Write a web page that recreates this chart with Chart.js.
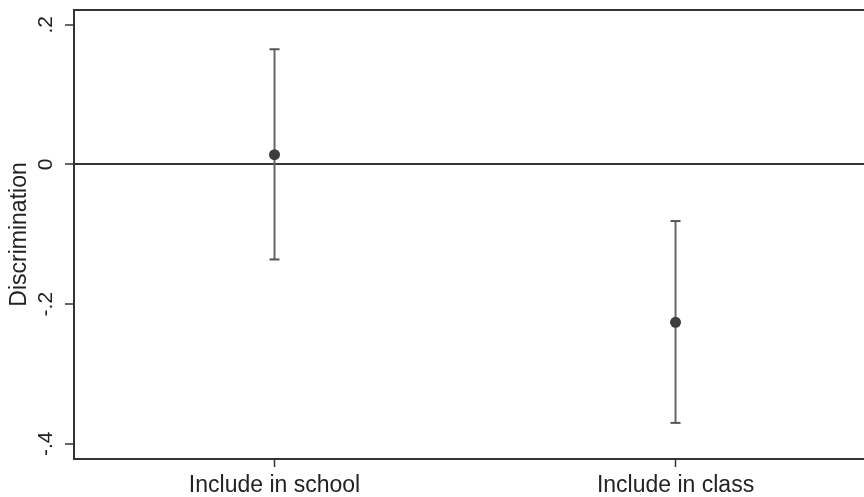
<!DOCTYPE html>
<html>
<head>
<meta charset="utf-8">
<title>Discrimination</title>
<script src="https://cdn.jsdelivr.net/npm/chart.js@4/dist/chart.umd.min.js"></script>
<style>
  html, body { margin: 0; padding: 0; background: #ffffff; overflow: hidden; }
  #wrap { position: relative; width: 864px; height: 497px; }
</style>
</head>
<body>
<div id="wrap"><canvas id="chart"></canvas></div>
<script>
// Point estimates with their confidence bounds, one entry per category
const categories = ['Include in school', 'Include in class'];
const estimates  = [0.014, -0.226];
const ciLower    = [-0.136, -0.370];
const ciUpper    = [0.165, -0.081];
const yTicks     = [-0.4, -0.2, 0, 0.2];
const yTickLabels = ['-.4', '-.2', '0', '.2'];

const FONT = '"Liberation Sans", Arial, Helvetica, sans-serif';
const INK = '#222222';
const FRAME = '#333333';

// One whisker dataset per category: a vertical segment with flat caps at both ends
const whiskers = categories.map((c, i) => ({
  type: 'line',
  label: c + ' CI',
  data: [{ x: i, y: ciLower[i] }, { x: i, y: ciUpper[i] }],
  showLine: true,
  borderColor: '#666666',
  borderWidth: 2,
  pointStyle: 'line',
  pointRadius: 5,
  pointBorderWidth: 2,
  pointBorderColor: '#555555',
  fill: false,
  order: 1
}));

const points = {
  type: 'scatter',
  label: 'Estimate',
  data: estimates.map((v, i) => ({ x: i, y: v })),
  pointRadius: 5.5,
  pointBackgroundColor: '#3d3d3d',
  pointBorderWidth: 0,
  order: 0
};

// Frame top edge and rotated y tick labels, placed by the y scale
const framePlugin = {
  id: 'frame',
  afterDraw(chart) {
    const { ctx, chartArea } = chart;
    const y = chart.scales.y;
    ctx.save();
    ctx.strokeStyle = FRAME;
    ctx.lineWidth = 2;
    ctx.beginPath();
    ctx.moveTo(chartArea.left - 1, chartArea.top);
    ctx.lineTo(chartArea.right, chartArea.top);
    ctx.stroke();

    ctx.fillStyle = INK;
    ctx.font = '21px ' + FONT;
    ctx.textAlign = 'center';
    ctx.textBaseline = 'middle';
    yTicks.forEach((v, i) => {
      const py = y.getPixelForValue(v);
      ctx.save();
      ctx.translate(46, py);
      ctx.rotate(-Math.PI / 2);
      ctx.fillText(yTickLabels[i], 0, 0);
      ctx.restore();
    });
    ctx.restore();
  }
};

new Chart(document.getElementById('chart'), {
  data: { datasets: [points, ...whiskers] },
  options: {
    responsive: true,
    maintainAspectRatio: false,
    animation: false,
    layout: { autoPadding: false, padding: { top: 10, right: 0, left: 0, bottom: 0 } },
    plugins: { legend: { display: false }, tooltip: { enabled: false } },
    scales: {
      x: {
        type: 'linear',
        min: -0.5,
        max: 1.47,
        afterFit(scale) {
          scale.height = 38;
          scale.paddingLeft = 0;
          scale.paddingRight = 0;
        },
        afterBuildTicks(scale) { scale.ticks = categories.map((c, i) => ({ value: i })); },
        ticks: {
          autoSkip: false,
          maxRotation: 0,
          padding: 5,
          color: INK,
          font: { family: FONT, size: 23 },
          callback: (v) => categories[v] ?? ''
        },
        grid: {
          drawOnChartArea: false,
          drawTicks: true,
          tickLength: 8,
          tickWidth: 1.5,
          tickColor: FRAME
        },
        border: { display: true, color: FRAME, width: 2 }
      },
      y: {
        type: 'linear',
        min: -0.4217,
        max: 0.2212,
        afterFit(scale) {
          scale.width = 74;
          scale.paddingTop = 0;
          scale.paddingBottom = 0;
        },
        afterBuildTicks(scale) { scale.ticks = yTicks.map(v => ({ value: v })); },
        ticks: { display: false },
        title: {
          display: true,
          text: 'Discrimination',
          color: INK,
          font: { family: FONT, size: 23 },
          padding: { top: 6, bottom: 0 }
        },
        grid: {
          drawOnChartArea: true,
          drawTicks: true,
          tickLength: 9,
          tickWidth: 1.5,
          tickColor: FRAME,
          lineWidth: 2,
          color: (ctx) => (ctx.tick && ctx.tick.value === 0 ? FRAME : 'rgba(0,0,0,0)')
        },
        border: { display: true, color: FRAME, width: 2 }
      }
    }
  },
  plugins: [framePlugin]
});
</script>
</body>
</html>
